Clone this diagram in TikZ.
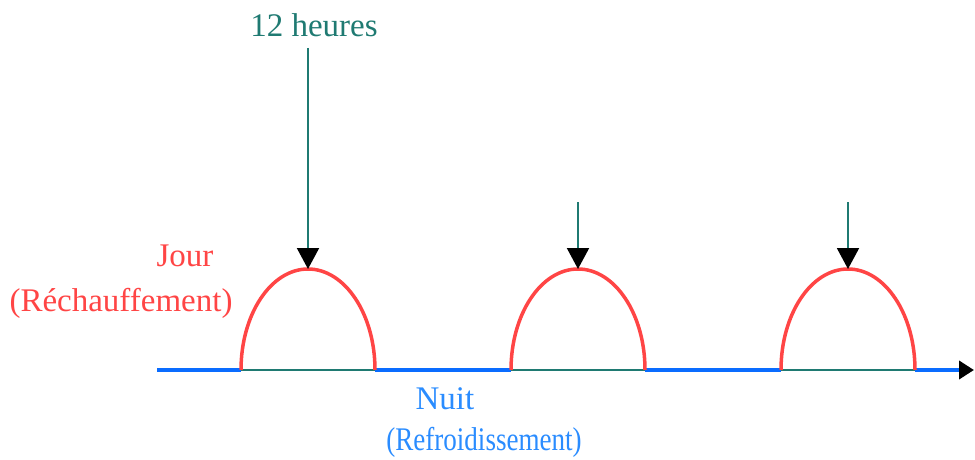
\documentclass[tikz,border=0pt]{standalone}
\usepackage{fontspec}
\setmainfont{Liberation Serif}
\usetikzlibrary{arrows.meta}
\definecolor{tealdark}{HTML}{1F7A72}
\definecolor{archred}{HTML}{FF4545}
\definecolor{axisblue}{HTML}{0A6CFF}
\definecolor{textblue}{HTML}{2A8CFF}
\begin{document}
\begin{tikzpicture}[x=1pt,y=1pt,
  lbl/.style={inner sep=0pt,anchor=base,font=\fontsize{33}{38}\selectfont},
  archline/.style={draw=archred,line width=3.5pt},
  baseline/.style={draw=tealdark,line width=2pt},
  axisline/.style={draw=axisblue,line width=4pt},
  noon/.style={draw=tealdark,line width=2pt,-{Triangle[length=21pt,width=22pt,color=black]}}]
\useasboundingbox (0,0) rectangle (975,459);
% coordinates
\coordinate (a0) at (157,89);
\coordinate (aEnd) at (974,89);
\coordinate (l1) at (241,89); \coordinate (r1) at (375,89);
\coordinate (l2) at (511,89); \coordinate (r2) at (645,89);
\coordinate (l3) at (781,89); \coordinate (r3) at (915,89);
\coordinate (t1) at (308,190); \coordinate (t2) at (578,190); \coordinate (t3) at (848,190);
\coordinate (s1) at (308,411); \coordinate (s2) at (578,257); \coordinate (s3) at (848,257);
% teal bases
\draw[baseline] (l1) -- (r1);
\draw[baseline] (l2) -- (r2);
\draw[baseline] (l3) -- (r3);
% blue axis
\draw[axisline] (a0) -- (l1);
\draw[axisline] (r1) -- (l2);
\draw[axisline] (r2) -- (l3);
\draw[axisline,-{Triangle[length=15pt,width=18pt,color=black]}] (r3) -- (aEnd);
% arches
\draw[archline] (l1) arc[start angle=180,end angle=0,x radius=67pt,y radius=101pt];
\draw[archline] (l2) arc[start angle=180,end angle=0,x radius=67pt,y radius=101pt];
\draw[archline] (l3) arc[start angle=180,end angle=0,x radius=67pt,y radius=101pt];
% noon arrows
\draw[noon] (s1) -- (t1);
\draw[noon] (s2) -- (t2);
\draw[noon] (s3) -- (t3);
% labels
\node[lbl,text=tealdark] (heures) at (314,422) {12 heures};
\node[lbl,text=archred] (jour) at (185,193) {Jour};
\node[lbl,text=archred] (rech) at (121,148) {(Réchauffement)};
\node[lbl,text=textblue] (nuit) at (445,50) {Nuit};
\node[lbl,text=textblue] (refr) at (484,9) {\scalebox{0.82}[1]{(Refroidissement)}};
\end{tikzpicture}
\end{document}
